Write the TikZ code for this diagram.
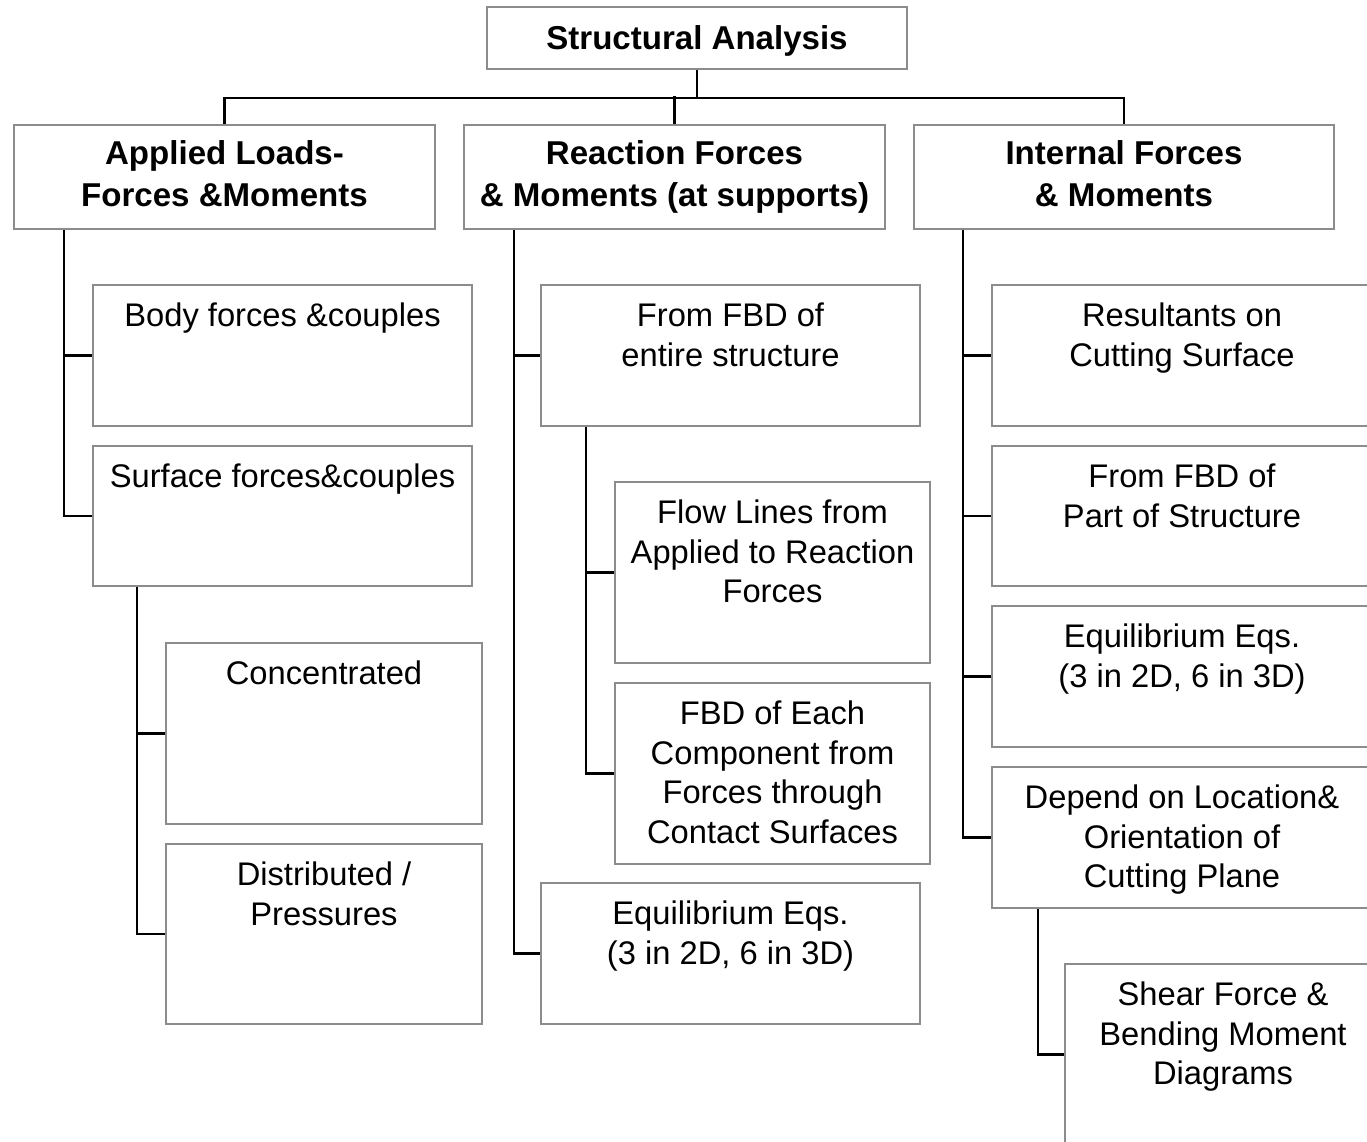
\documentclass[tikz,border=0pt]{standalone}
\usepackage{fontspec}
\setmainfont{Liberation Sans}
\definecolor{boxgray}{HTML}{8C8C8C}
\newcommand{\regfont}{\fontsize{9.3}{11.3}\selectfont}
\newcommand{\headfont}{\fontsize{9.4}{11.9}\selectfont\bfseries}
\newcommand{\headstrut}{\rule[-2.2pt]{0pt}{11.2pt}}
\tikzset{
  box/.style 2 args={draw=boxgray, line width=0.6pt, inner sep=0pt,
    minimum width=#1, minimum height=#2},
  head/.style={align=center, font=\headfont,
    execute at begin node=\headstrut, execute at end node=\headstrut},
  txt/.style={anchor=north, align=center, inner sep=0pt, yshift=-0.18cm, font=\regfont},
  link/.style={draw=black, line width=0.6pt},
}
\begin{document}
\begin{tikzpicture}[x=0.01cm,y=-0.01cm]
  \useasboundingbox (0,0) rectangle (1367,1141);
  \clip (0,0) rectangle (1367,1141);
  % top level
  \node[box={4.20cm}{0.62cm}, head] (root) at (697,38) {Structural Analysis};
  \node[box={4.21cm}{1.04cm}, head] (appl) at (224.5,177) {Applied Loads-\\Forces \&Moments};
  \node[box={4.21cm}{1.04cm}, head] (reac) at (674.5,177) {Reaction Forces\\\& Moments (at supports)};
  \node[box={4.20cm}{1.04cm}, head] (intf) at (1124,177) {Internal Forces\\\& Moments};
  \draw[link] (appl.north) |- ([yshift=-0.28cm]root.south) -| (intf.north);
  \draw[link] (root.south) -- ++(0,28);
  \draw[link] (reac.north) -- ++(0,-28);

  % applied loads
  \node[box={3.79cm}{1.41cm}] (body) at (282.5,355.5) {};
  \node[txt] (bodyT) at (body.north) {Body forces \&couples};
  \node[box={3.79cm}{1.40cm}] (surf) at (282.5,516) {};
  \node[txt] (surfT) at (surf.north) {Surface forces\&couples};
  \node[box={3.16cm}{1.81cm}] (conc) at (324,733.5) {};
  \node[txt] (concT) at (conc.north) {Concentrated};
  \node[box={3.16cm}{1.80cm}] (dist) at (324,934) {};
  \node[txt] (distT) at (dist.north) {Distributed /\\Pressures};
  \draw[link] ([xshift=0.51cm]appl.south west) |- (body.west);
  \draw[link] ([xshift=0.51cm]appl.south west) |- (surf.west);
  \draw[link] ([xshift=0.45cm]surf.south west) |- (conc.west);
  \draw[link] ([xshift=0.45cm]surf.south west) |- (dist.west);

  % reaction forces
  \node[box={3.79cm}{1.41cm}] (fbd) at (730.5,355.5) {};
  \node[txt] (fbdT) at (fbd.north) {From FBD of\\entire structure};
  \node[box={3.15cm}{1.81cm}] (flow) at (772.5,572.5) {};
  \node[txt] (flowT) at (flow.north) {Flow Lines from\\Applied to Reaction\\Forces};
  \node[box={3.15cm}{1.81cm}] (each) at (772.5,773.5) {};
  \node[txt] (eachT) at (each.north) {FBD of Each\\Component from\\Forces through\\Contact Surfaces};
  \node[box={3.79cm}{1.41cm}] (eqb) at (730.5,953.5) {};
  \node[txt] (eqbT) at (eqb.north) {Equilibrium Eqs.\\(3 in 2D, 6 in 3D)};
  \draw[link] ([xshift=0.51cm]reac.south west) |- (fbd.west);
  \draw[link] ([xshift=0.51cm]reac.south west) |- (eqb.west);
  \draw[link] ([xshift=0.46cm]fbd.south west) |- (flow.west);
  \draw[link] ([xshift=0.46cm]fbd.south west) |- (each.west);

  % internal forces
  \node[box={3.80cm}{1.41cm}] (res) at (1182,355.5) {};
  \node[txt] (resT) at (res.north) {Resultants on\\Cutting Surface};
  \node[box={3.80cm}{1.40cm}] (part) at (1182,516) {};
  \node[txt] (partT) at (part.north) {From FBD of\\Part of Structure};
  \node[box={3.80cm}{1.41cm}] (eqc) at (1182,676.5) {};
  \node[txt] (eqcT) at (eqc.north) {Equilibrium Eqs.\\(3 in 2D, 6 in 3D)};
  \node[box={3.80cm}{1.41cm}] (dep) at (1182,837.5) {};
  \node[txt] (depT) at (dep.north) {Depend on Location\&\\Orientation of\\Cutting Plane};
  \node[box={3.16cm}{1.81cm}] (shear) at (1223,1054.5) {};
  \node[txt] (shearT) at (shear.north) {Shear Force \&\\Bending Moment\\Diagrams};
  \draw[link] ([xshift=0.50cm]intf.south west) |- (res.west);
  \draw[link] ([xshift=0.50cm]intf.south west) |- (part.west);
  \draw[link] ([xshift=0.50cm]intf.south west) |- (eqc.west);
  \draw[link] ([xshift=0.50cm]intf.south west) |- (dep.west);
  \draw[link] ([xshift=0.47cm]dep.south west) |- (shear.west);
\end{tikzpicture}
\end{document}
